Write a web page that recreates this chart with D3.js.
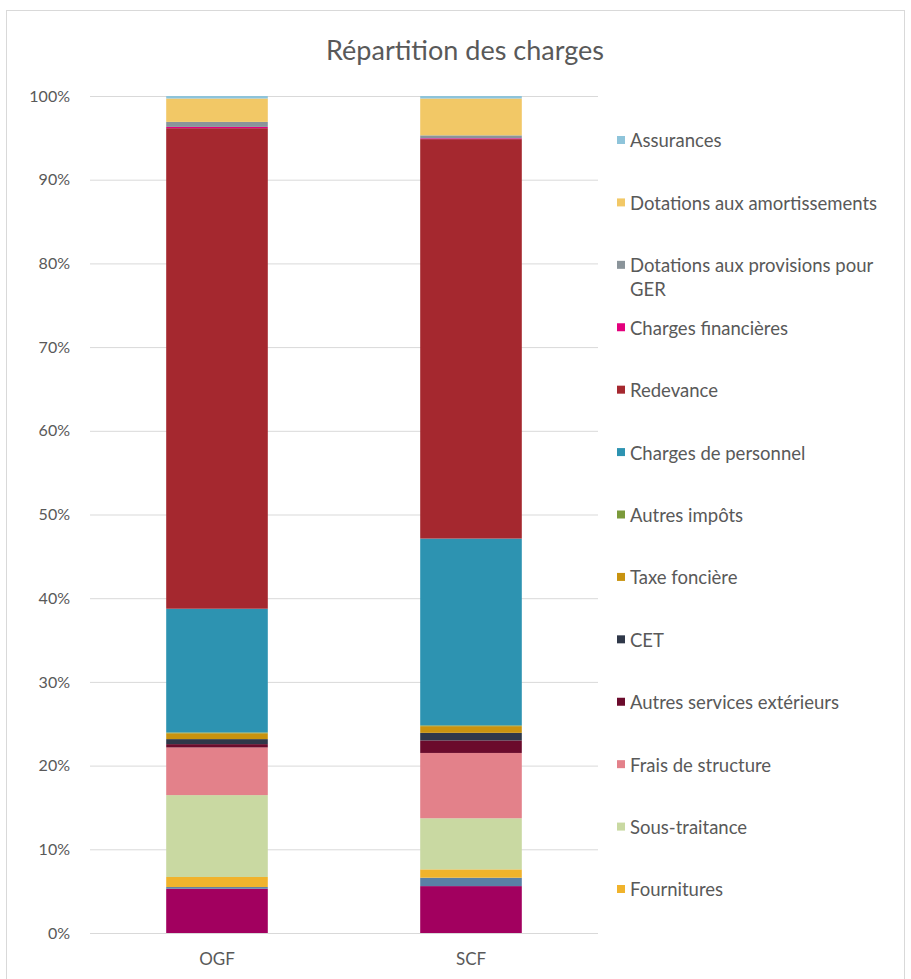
<!DOCTYPE html>
<html>
<head>
<meta charset="utf-8">
<script src="https://cdn.jsdelivr.net/npm/d3@7"></script>
<style>
  body { margin: 0; background: #fff; }
  text { font-family: Lato, "Open Sans", sans-serif; fill: #595959; }
</style>
</head>
<body>
<svg id="chart"></svg>
<script>
// categories (x axis)
const categories = ["OGF", "SCF"];

// series, bottom of the stack first (the two lowest have no visible legend entry: legend is cut off)
const seriesNames = [
  "Autre 1",
  "Autre 2",
  "Fournitures",
  "Sous-traitance",
  "Frais de structure",
  "Autres services extérieurs",
  "CET",
  "Taxe foncière",
  "Autres impôts",
  "Charges de personnel",
  "Redevance",
  "Charges financières",
  "Dotations aux provisions pour GER",
  "Dotations aux amortissements",
  "Assurances"
];

// share of charges, in %
const ogfValues = [5.3, 0.2, 1.2, 9.8, 5.7, 0.4, 0.6, 0.7, 0.1, 14.8, 57.5, 0.15, 0.6, 2.8, 0.3];
const scfValues = [5.6, 1.0, 1.0, 6.1, 7.8, 1.5, 0.9, 0.8, 0.1, 22.3, 47.7, 0.1, 0.35, 4.4, 0.3];

const seriesColors = [
  "#a2005f", "#5a7fa6", "#f0b32c", "#c9d9a2", "#e3818a", "#6b0b2c", "#2f3849",
  "#c8930f", "#7b9a3b", "#2d93b1", "#a5282f", "#e4007d", "#8a949a", "#f2c866", "#8ec4da"
];

const yTicks = [0, 0.1, 0.2, 0.3, 0.4, 0.5, 0.6, 0.7, 0.8, 0.9, 1];

// legend shows the stack top-down, and only 13 entries fit
const legendNames = seriesNames.slice(2).reverse();

const W = 911, H = 979;
const plot = { left: 90, right: 598, top: 96, bottom: 933 };

const svg = d3.select("#chart").attr("width", W).attr("height", H);

// chart frame
svg.append("rect")
  .attr("x", 6.5).attr("y", 10.5)
  .attr("width", 898).attr("height", 975)
  .attr("fill", "none")
  .attr("stroke", "#d9d9d9");

svg.append("text")
  .attr("x", 465).attr("y", 60)
  .attr("text-anchor", "middle")
  .attr("font-size", 27)
  .text("Répartition des charges");

const table = categories.map((c, i) => {
  const row = { cat: c };
  seriesNames.forEach((s, j) => { row[s] = i === 0 ? ogfValues[j] : scfValues[j]; });
  return row;
});

const stacked = d3.stack().keys(seriesNames).offset(d3.stackOffsetExpand)(table);

const x = d3.scaleBand().domain(categories).range([plot.left, plot.right]).paddingInner(0.6).paddingOuter(0.3);
const y = d3.scaleLinear().domain([0, 1]).range([plot.bottom, plot.top]);
const color = d3.scaleOrdinal().domain(seriesNames).range(seriesColors);

// gridlines + y labels
const yAxis = d3.axisLeft(y)
  .tickValues(yTicks)
  .tickFormat(d3.format(".0%"))
  .tickSize(-(plot.right - plot.left))
  .tickPadding(20);

const gy = svg.append("g")
  .attr("transform", `translate(${plot.left},0)`)
  .call(yAxis);
gy.select(".domain").remove();
gy.selectAll(".tick line").attr("stroke", "#d9d9d9");
gy.selectAll(".tick text").attr("font-size", 16).attr("fill", "#595959");

// bars
svg.append("g")
  .selectAll("g")
  .data(stacked)
  .join("g")
  .attr("fill", d => color(d.key))
  .selectAll("rect")
  .data(d => d)
  .join("rect")
  .attr("x", d => x(d.data.cat))
  .attr("width", x.bandwidth())
  .attr("y", d => y(d[1]))
  .attr("height", d => y(d[0]) - y(d[1]));

// x axis labels
const xAxis = d3.axisBottom(x).tickSize(0).tickPadding(20);
const gx = svg.append("g")
  .attr("transform", `translate(0,${plot.bottom})`)
  .call(xAxis);
gx.select(".domain").remove();
gx.selectAll(".tick text").attr("font-size", 17).attr("fill", "#595959");

// legend
const legend = svg.append("g").attr("transform", "translate(617,0)");
const legendY = d3.scaleLinear().domain([0, 12]).range([141, 890]);

const item = legend.selectAll("g")
  .data(legendNames)
  .join("g")
  .attr("transform", (d, i) => `translate(0,${legendY(i)})`);

item.append("rect")
  .attr("x", 0).attr("y", -5)
  .attr("width", 8).attr("height", 8)
  .attr("fill", d => color(d));

item.append("text")
  .attr("x", 13).attr("y", 0)
  .attr("dy", "0.35em")
  .attr("font-size", 18.5)
  .each(function (d) {
    const t = d3.select(this);
    if (d === "Dotations aux provisions pour GER") {
      t.append("tspan").attr("x", 13).text("Dotations aux provisions pour");
      t.append("tspan").attr("x", 13).attr("dy", "1.3em").text("GER");
    } else {
      t.text(d);
    }
  });
</script>
</body>
</html>
